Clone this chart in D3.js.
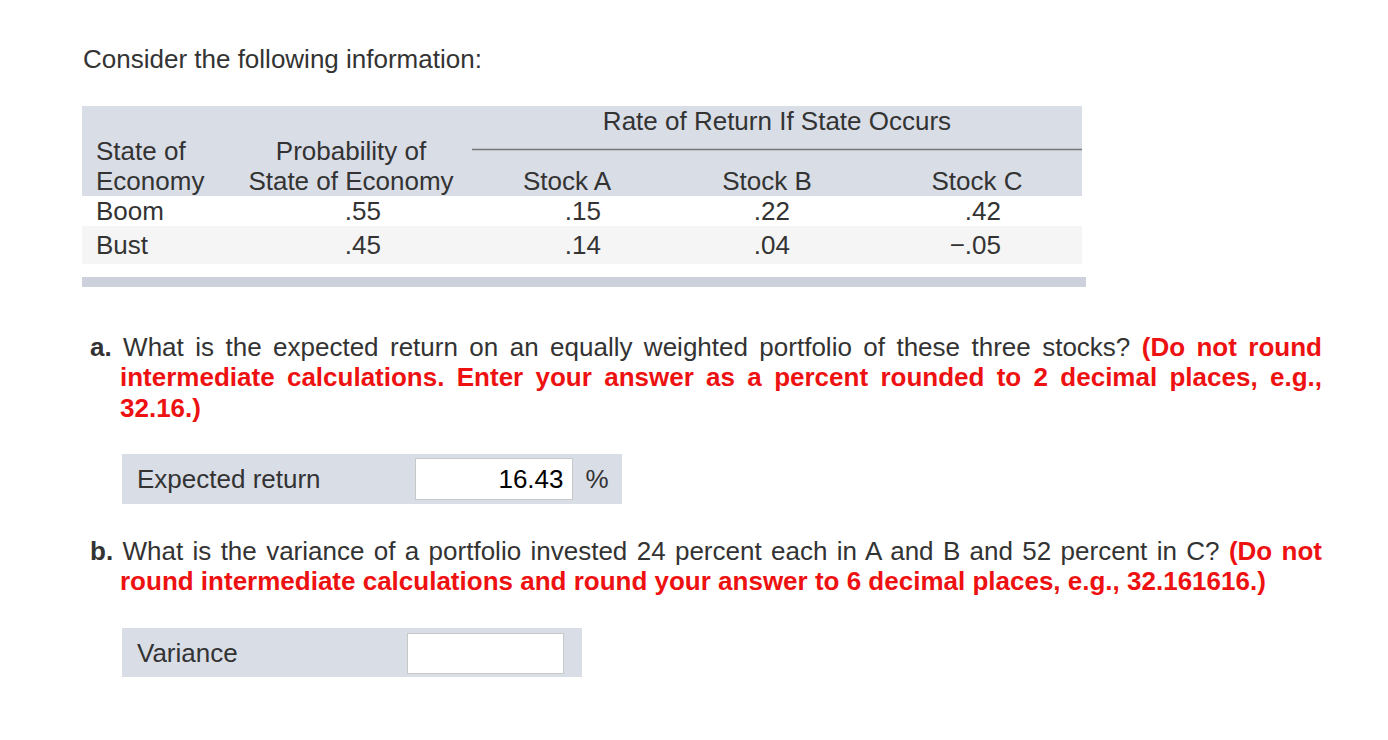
<!DOCTYPE html>
<html><head><meta charset="utf-8">
<script src="https://cdn.jsdelivr.net/npm/d3@7"></script>
<style>
html,body{margin:0;padding:0;background:#fff;}
svg{display:block;font-family:"Liberation Sans",Arial,Helvetica,sans-serif;}
</style></head>
<body>
<svg id="c" width="1388" height="740"></svg>
<script>
// ---- data ----
const states = ["Boom", "Bust"];
const probabilities = [".55", ".45"];
const stockNames = ["Stock A", "Stock B", "Stock C"];
const stockA = [".15", ".14"];
const stockB = [".22", ".04"];
const stockC = [".42", "\u2212.05"];
const expectedReturn = "16.43";
const varianceAnswer = "";

const svg = d3.select("#c");
const FS = 26;
const TXT = "#333333";
const RED = "#ee1111";

// title
svg.append("text").attr("x", 83).attr("y", 68).attr("font-size", FS).attr("fill", TXT)
  .text("Consider the following information:");

// table scales
const colKeys = ["prob", "A", "B", "C"];
const xRight = d3.scaleOrdinal().domain(colKeys).range([381, 601, 790, 1001]);
const xHead = d3.scaleOrdinal().domain(colKeys).range([351, 567, 767, 977]);
const yRow = d3.scalePoint().domain(states).range([220, 254]);

// backgrounds
svg.append("rect").attr("x", 82).attr("y", 106).attr("width", 1000).attr("height", 90).attr("fill", "#d9dde6");
svg.append("rect").attr("x", 82).attr("y", 196).attr("width", 1000).attr("height", 30).attr("fill", "#ffffff");
svg.append("rect").attr("x", 82).attr("y", 226).attr("width", 1000).attr("height", 38).attr("fill", "#f5f5f5");
svg.append("rect").attr("x", 82).attr("y", 277).attr("width", 1004).attr("height", 10).attr("fill", "#ccd1dc");
svg.append("line").attr("x1", 472).attr("x2", 1082).attr("y1", 149.5).attr("y2", 149.5)
  .attr("stroke", "#777").attr("stroke-width", 1.5);

// header text
svg.append("text").attr("x", 777).attr("y", 130).attr("text-anchor", "middle").attr("font-size", FS).attr("fill", TXT)
  .text("Rate of Return If State Occurs");
svg.append("text").attr("x", 96).attr("y", 160).attr("font-size", FS).attr("fill", TXT).text("State of");
svg.append("text").attr("x", 96).attr("y", 190).attr("font-size", FS).attr("fill", TXT).text("Economy");
svg.append("text").attr("x", xHead("prob")).attr("y", 160).attr("text-anchor", "middle").attr("font-size", FS).attr("fill", TXT).text("Probability of");
svg.append("text").attr("x", xHead("prob")).attr("y", 190).attr("text-anchor", "middle").attr("font-size", FS).attr("fill", TXT).text("State of Economy");
svg.selectAll("text.sh").data(stockNames).join("text").attr("class", "sh")
  .attr("x", (d, i) => xHead(colKeys[i + 1])).attr("y", 190).attr("text-anchor", "middle")
  .attr("font-size", FS).attr("fill", TXT).text(d => d);

// rows
const rows = states.map((s, i) => ({state: s, vals: [probabilities[i], stockA[i], stockB[i], stockC[i]]}));
const g = svg.selectAll("g.row").data(rows).join("g").attr("class", "row");
g.append("text").attr("x", 96).attr("y", d => yRow(d.state)).attr("font-size", FS).attr("fill", TXT).text(d => d.state);
g.selectAll("text.v").data(d => d.vals.map((v, j) => ({v, k: colKeys[j], s: d.state}))).join("text").attr("class", "v")
  .attr("x", d => xRight(d.k)).attr("y", d => yRow(d.s)).attr("text-anchor", "end")
  .attr("font-size", FS).attr("fill", TXT).text(d => d.v);

// question paragraphs
function para(lines) {
  lines.forEach(l => {
    const t = svg.append("text").attr("x", l.x).attr("y", l.y).attr("font-size", FS).attr("xml:space", "preserve");
    l.segs.forEach(s => {
      t.append("tspan").attr("fill", s.red ? RED : TXT).attr("font-weight", s.bold ? "bold" : "normal").text(s.t);
    });
    if (l.justify) {
      const w = t.node().getComputedTextLength();
      const txt = l.segs.map(s => s.t).join("");
      const n = (txt.trim().match(/ /g) || []).length;
      if (n > 0) t.attr("word-spacing", (l.justify - l.x - w) / n);
    }
  });
}
para([
  {x: 90, y: 356, justify: 1322, segs: [
    {t: "a.", bold: true},
    {t: " What is the expected return on an equally weighted portfolio of these three stocks? "},
    {t: "(Do not round", bold: true, red: true}]},
  {x: 120, y: 386, justify: 1322, segs: [
    {t: "intermediate calculations. Enter your answer as a percent rounded to 2 decimal places, e.g.,", bold: true, red: true}]},
  {x: 120, y: 417, segs: [{t: "32.16.)", bold: true, red: true}]}
]);
para([
  {x: 90, y: 560, justify: 1322, segs: [
    {t: "b.", bold: true},
    {t: " What is the variance of a portfolio invested 24 percent each in A and B and 52 percent in C? "},
    {t: "(Do not", bold: true, red: true}]},
  {x: 120, y: 590, segs: [
    {t: "round intermediate calculations and round your answer to 6 decimal places, e.g., 32.161616.)", bold: true, red: true}]}
]);

// answer boxes
const answers = [
  {label: "Expected return", value: expectedReturn, unit: "%", bx: 122, by: 454, bw: 500, bh: 50, ix: 415.5, iy: 458.5, iw: 157, ih: 41},
  {label: "Variance", value: varianceAnswer, unit: "", bx: 122, by: 628, bw: 460, bh: 49, ix: 407.5, iy: 633.5, iw: 156, ih: 40}
];
const ag = svg.selectAll("g.ans").data(answers).join("g").attr("class", "ans");
ag.append("rect").attr("x", d => d.bx).attr("y", d => d.by).attr("width", d => d.bw).attr("height", d => d.bh).attr("fill", "#d9dde6");
ag.append("rect").attr("x", d => d.ix).attr("y", d => d.iy).attr("width", d => d.iw).attr("height", d => d.ih)
  .attr("fill", "#fff").attr("stroke", "#c8c8c8").attr("stroke-width", 1);
ag.append("text").attr("x", 137).attr("y", d => d.by + 34).attr("font-size", FS).attr("fill", TXT).text(d => d.label);
ag.append("text").attr("x", d => d.ix + d.iw - 9).attr("y", d => d.by + 34).attr("text-anchor", "end").attr("font-size", FS).attr("fill", "#000").text(d => d.value);
ag.append("text").attr("x", d => d.ix + d.iw + 13).attr("y", d => d.by + 34).attr("font-size", FS).attr("fill", TXT).text(d => d.unit);
</script>
</body></html>
